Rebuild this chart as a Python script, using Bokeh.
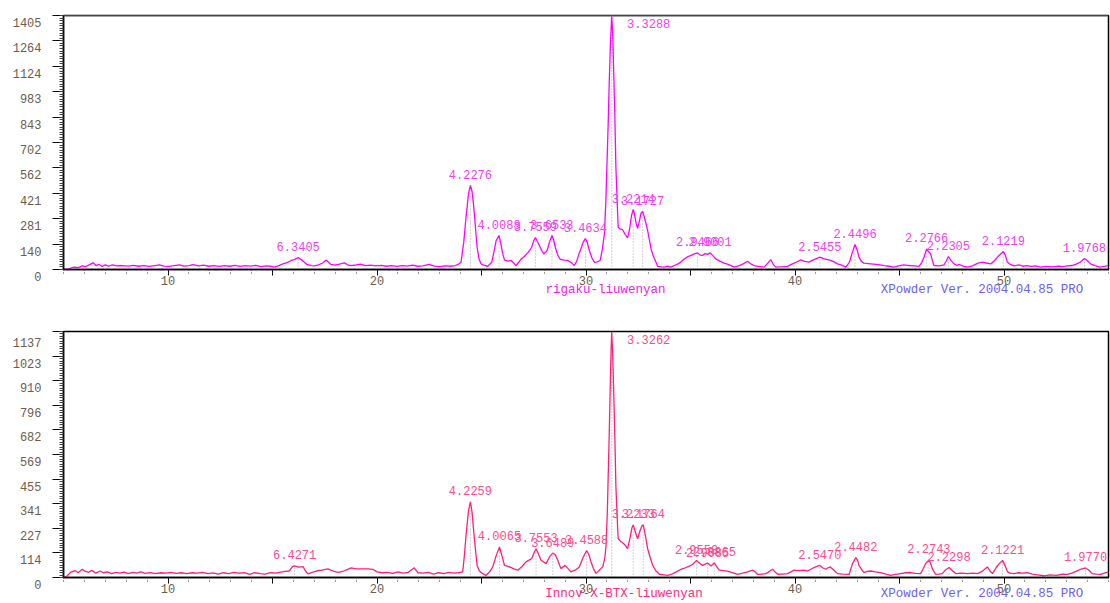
from bokeh.plotting import figure
from bokeh.layouts import column
from bokeh.models import (Range1d, FixedTicker, ColumnDataSource, LinearAxis,
                          Span, CustomJSTickFormatter)
from bokeh.core.properties import value
from bokeh.embed import file_html
from bokeh.resources import INLINE

# ---------------- data: top pattern (rigaku) ----------------
top_two_theta = [
    5.0, 5.25, 5.5, 5.7, 5.9, 6.05, 6.2, 6.42, 6.55, 6.7, 6.85, 7.0, 7.15, 7.35, 7.55, 7.8,
    8.1, 8.35, 8.6, 8.85, 9.1, 9.35, 9.6, 9.8, 10.05, 10.3, 10.55, 10.75, 11.0, 11.2, 11.45,
    11.7, 11.95, 12.2, 12.45, 12.7, 12.95, 13.2, 13.45, 13.7, 13.95, 14.2, 14.45, 14.7, 14.9,
    15.1, 15.3, 15.5, 15.7, 15.9, 16.05, 16.23, 16.4, 16.65, 16.85, 17.0, 17.2, 17.4, 17.57,
    17.8, 18.0, 18.2, 18.43, 18.6, 18.75, 19.0, 19.2, 19.45, 19.7, 19.95, 20.2, 20.45, 20.7,
    20.95, 21.2, 21.45, 21.7, 21.95, 22.2, 22.5, 22.75, 23.0, 23.25, 23.5, 23.75, 23.9,
    24.02, 24.15, 24.26, 24.38, 24.47, 24.55, 24.63, 24.72, 24.79, 24.88, 24.98, 25.1, 25.3,
    25.49, 25.6, 25.7, 25.84, 25.94, 26.02, 26.1, 26.25, 26.42, 26.55, 26.65, 26.78, 26.89,
    27.05, 27.21, 27.3, 27.4, 27.5, 27.58, 27.67, 27.77, 27.88, 27.98, 28.06, 28.14, 28.25,
    28.37, 28.45, 28.53, 28.65, 28.77, 28.95, 29.13, 29.3, 29.44, 29.55, 29.66, 29.76, 29.86,
    29.97, 30.06, 30.16, 30.28, 30.4, 30.55, 30.68, 30.78, 30.88, 30.95, 31.0, 31.06, 31.11,
    31.17, 31.23, 31.28, 31.32, 31.38, 31.43, 31.49, 31.54, 31.62, 31.75, 31.87, 31.99, 32.08,
    32.18, 32.26, 32.33, 32.4, 32.47, 32.55, 32.63, 32.71, 32.8, 32.88, 32.95, 33.03, 33.11,
    33.22, 33.35, 33.43, 33.6, 33.75, 33.9, 34.07, 34.22, 34.38, 34.54, 34.7, 34.86, 35.02,
    35.18, 35.34, 35.46, 35.58, 35.7, 35.82, 35.94, 36.06, 36.21, 36.4, 36.61, 36.8, 37.09,
    37.3, 37.5, 37.73, 37.9, 38.05, 38.25, 38.52, 38.7, 38.84, 38.95, 39.08, 39.35, 39.64,
    39.85, 40.05, 40.28, 40.45, 40.67, 40.9, 41.05, 41.19, 41.35, 41.5, 41.71, 41.87, 42.03,
    42.2, 42.43, 42.6, 42.75, 42.87, 42.97, 43.06, 43.18, 43.3, 43.5, 43.75, 44.0, 44.26,
    44.5, 44.74, 44.95, 45.21, 45.45, 45.7, 45.93, 46.05, 46.17, 46.3, 46.38, 46.49, 46.57,
    46.65, 46.9, 47.13, 47.25, 47.34, 47.45, 47.61, 47.75, 47.85, 48.05, 48.25, 48.5, 48.75,
    48.96, 49.15, 49.36, 49.55, 49.76, 49.97, 50.06, 50.16, 50.3, 50.48, 50.7, 50.9, 51.11,
    51.3, 51.5, 51.75, 52.0, 52.3, 52.6, 52.8, 53.03, 53.25, 53.45, 53.66, 53.85, 54.0,
    54.14, 54.35, 54.58, 54.8, 55.0]
top_counts = [
    0, 4, 13, 10, 20, 16, 24, 37, 22, 28, 17, 26, 19, 25, 20, 22,
    19, 23, 18, 22, 17, 21, 25, 19, 17, 22, 26, 19, 22, 27, 20,
    24, 18, 21, 17, 22, 18, 23, 17, 21, 19, 23, 16, 20, 18,
    13, 22, 31, 38, 50, 55, 66, 52, 28, 22, 20, 26, 36, 52,
    28, 24, 30, 37, 26, 22, 25, 30, 21, 24, 20, 23, 18, 22,
    17, 21, 19, 24, 18, 20, 28, 19, 16, 20, 18, 22, 30,
    40, 150, 289, 420, 465, 430, 345, 220, 123, 60, 31, 24, 18,
    40, 100, 160, 188, 133, 85, 53, 46, 50, 35, 22, 40, 58,
    72, 92, 105, 123, 160, 177, 155, 133, 105, 86, 95, 105, 150,
    188, 165, 123, 80, 56, 52, 50, 38, 22, 45, 85, 115, 150,
    171, 150, 105, 65, 40, 42, 50, 110, 197, 380, 566, 800, 1027,
    1250, 1405, 1300, 1119, 850, 566, 380, 234, 225, 220, 195, 175, 220,
    300, 332, 300, 255, 227, 265, 310, 321, 285, 250, 215, 165, 115,
    75, 40, 17, 15, 13, 18, 13, 22, 30, 41, 58, 70, 78,
    86, 92, 80, 78, 88, 84, 92, 78, 59, 46, 35, 28, 13,
    20, 30, 46, 30, 22, 17, 13, 35, 55, 30, 13, 15, 17,
    30, 40, 53, 45, 41, 55, 62, 68, 60, 56, 50, 42, 31,
    26, 13, 40, 96, 138, 110, 68, 45, 35, 33, 30, 27, 22,
    18, 13, 20, 26, 22, 20, 17, 35, 68, 114, 100, 87, 50,
    22, 20, 26, 50, 72, 52, 31, 22, 28, 18, 13, 20, 35,
    41, 36, 31, 50, 78, 99, 80, 41, 28, 20, 25, 18, 22,
    17, 20, 13, 17, 15, 19, 16, 20, 22, 30, 41, 61, 48,
    31, 22, 13, 17, 22]
top_peak_two_theta = [16.23, 24.47, 25.84, 27.58, 28.37, 29.97, 31.23, 32.26, 32.71,
                      35.34, 35.94, 41.19, 42.87, 46.30, 47.34, 49.97, 53.85]
top_peak_counts = [66, 465, 188, 177, 188, 171, 1405, 332, 321, 92, 92, 68, 138, 114, 72, 99, 61]
top_peak_labels = ["6.3405", "4.2276", "4.0088", "3.7559", "3.6533", "3.4634", "3.3288",
                   "3.2214", "3.1727", "2.9466", "2.9001", "2.5455", "2.4496", "2.2766",
                   "2.2305", "2.1219", "1.9768"]
top_ytick_labels = ["0", "140", "281", "421", "562", "702", "843", "983", "1124", "1264", "1405"]
top_ymax = 1405
top_caption = "rigaku-liuwenyan"

# ---------------- data: bottom pattern (Innov-X BTX) ----------------
bot_two_theta = [
    5.0, 5.15, 5.35, 5.55, 5.7, 5.9, 6.05, 6.2, 6.35, 6.55, 6.75, 6.9, 7.1, 7.3, 7.5, 7.7,
    7.9, 8.1, 8.3, 8.5, 8.7, 8.9, 9.15, 9.4, 9.65, 9.9, 10.15, 10.4, 10.65, 10.9, 11.15,
    11.4, 11.65, 11.9, 12.15, 12.4, 12.65, 12.9, 13.15, 13.4, 13.65, 13.9, 14.15, 14.4,
    14.65, 14.9, 15.15, 15.4, 15.6, 15.8, 15.95, 16.06, 16.25, 16.46, 16.58, 16.7, 16.9,
    17.1, 17.35, 17.65, 17.9, 18.15, 18.4, 18.6, 18.77, 19.0, 19.3, 19.6, 19.8, 20.0,
    20.25, 20.5, 20.75, 21.0, 21.25, 21.5, 21.78, 21.95, 22.2, 22.45, 22.7, 22.95, 23.2,
    23.45, 23.7, 23.9,
    24.1, 24.18, 24.26, 24.38, 24.47, 24.55, 24.63, 24.72, 24.79, 24.9, 25.05, 25.22,
    25.38, 25.54, 25.7, 25.86, 25.98, 26.1, 26.34, 26.55, 26.74, 26.95, 27.13, 27.4,
    27.52, 27.61, 27.72, 27.85, 28.09, 28.25, 28.41, 28.53, 28.65, 28.8, 29.0, 29.15,
    29.28, 29.5, 29.68, 29.85, 30.03, 30.14, 30.24, 30.36, 30.48, 30.65, 30.8, 30.9,
    30.96, 31.02, 31.07, 31.12, 31.16, 31.2, 31.23, 31.27, 31.32, 31.38, 31.43, 31.49,
    31.54, 31.65, 31.75, 31.87, 31.99, 32.1, 32.2, 32.26, 32.36, 32.47, 32.58, 32.68,
    32.74, 32.85, 32.95, 33.08, 33.19, 33.35, 33.51, 33.75, 33.91, 34.07, 34.3, 34.54,
    34.75, 34.94, 35.1, 35.29, 35.45, 35.58, 35.7, 35.82, 35.9, 35.98, 36.06, 36.14,
    36.25, 36.37, 36.57, 36.77, 37.0, 37.25, 37.5, 37.73, 37.97, 38.1, 38.21, 38.4,
    38.61, 38.8, 38.93, 39.05, 39.17, 39.4, 39.64, 39.8, 39.96, 40.2, 40.44, 40.6,
    40.76, 40.95, 41.19, 41.32, 41.47, 41.58, 41.68, 41.85, 42.03, 42.3, 42.59, 42.75,
    42.91, 43.0, 43.06, 43.18, 43.3, 43.45, 43.62, 43.85, 44.1, 44.35, 44.58, 44.8,
    45.05, 45.3, 45.53, 45.75, 46.01, 46.12, 46.25, 46.41, 46.49, 46.57, 46.73, 46.9,
    47.05, 47.2, 47.37, 47.52, 47.69, 47.95, 48.25, 48.5, 48.73, 48.95, 49.1, 49.21,
    49.33, 49.45, 49.62, 49.77, 49.93, 50.05, 50.17, 50.3, 50.48, 50.7, 50.9, 51.11,
    51.35, 51.6, 51.91, 52.2, 52.5, 52.8, 53.03, 53.25, 53.45, 53.66, 53.9, 54.05,
    54.22, 54.4, 54.62, 54.8, 55.0]
bot_counts = [
    0, 5, 25, 32, 22, 38, 28, 24, 33, 20, 30, 22, 26, 18, 24, 20,
    25, 18, 24, 20, 26, 19, 23, 18, 22, 20, 24, 19, 22, 18, 22,
    20, 24, 18, 21, 16, 22, 18, 24, 20, 22, 14, 22, 18,
    16, 22, 20, 25, 28, 30, 50, 54, 48, 50, 30, 17, 24,
    30, 34, 40, 30, 24, 30, 38, 44, 40, 40, 40, 38, 26,
    22, 24, 19, 26, 20, 24, 45, 22, 20, 24, 16, 22, 18,
    24, 20, 22,
    26, 100, 194, 310, 350, 300, 209, 120, 56, 30, 18, 10,
    25, 49, 100, 141, 100, 56, 49, 40, 34, 52, 72, 87,
    115, 133, 110, 80, 64, 95, 113, 105, 80, 41, 56, 40,
    26, 35, 49, 90, 125, 105, 72, 40, 19, 35, 49, 90,
    148, 300, 500, 700, 882, 1050, 1137, 1050, 882, 650, 423, 280,
    179, 168, 161, 150, 133, 180, 230, 243, 210, 179, 215, 240,
    243, 190, 133, 90, 56, 30, 15, 12, 10, 14, 25, 38,
    45, 53, 60, 79, 65, 56, 62, 67, 60, 53, 60, 68,
    50, 34, 32, 29, 22, 14, 20, 26, 34, 25, 14, 16,
    18, 30, 38, 25, 15, 16, 18, 26, 34, 32, 34, 30,
    38, 48, 56, 45, 38, 45, 49, 35, 18, 16, 14, 64,
    92, 78, 56, 38, 23, 28, 30, 26, 23, 16, 10, 14,
    18, 22, 23, 19, 18, 38, 64, 81, 65, 41, 14, 16,
    18, 35, 46, 32, 18, 20, 18, 20, 18, 28, 40, 49,
    30, 18, 45, 64, 79, 55, 26, 20, 18, 22, 20, 23,
    16, 12, 8, 12, 10, 15, 14, 20, 28, 38, 44, 35,
    18, 16, 14, 20, 26]
bot_peak_two_theta = [16.06, 24.47, 25.86, 27.61, 28.41, 30.03, 31.23, 32.26, 32.74,
                      35.29, 35.82, 36.14, 41.19, 42.91, 46.41, 47.37, 49.93, 53.90]
bot_peak_counts = [54, 350, 141, 133, 113, 125, 1137, 243, 243, 79, 67, 68, 56, 92, 81, 46, 79, 44]
bot_peak_labels = ["6.4271", "4.2259", "4.0065", "3.7553", "3.6489", "3.4588", "3.3262",
                   "3.2233", "3.1764", "2.9550", "2.9085", "2.8865", "2.5470", "2.4482",
                   "2.2743", "2.2298", "2.1221", "1.9770"]
bot_ytick_labels = ["0", "114", "227", "341", "455", "569", "682", "796", "910", "1023", "1137"]
bot_ymax = 1137
bot_caption = "Innov-X-BTX-liuwenyan"

software_text = "XPowder Ver. 2004.04.85 PRO"

# ---------------- styling ----------------
FONT = "Liberation Mono"
TICK_COLOR = "#6e5c4c"
SOFT_COLOR = "#6a62f0"


def caption_axis(center_x, text, color, standoff):
    ax = LinearAxis(ticker=FixedTicker(ticks=[center_x], minor_ticks=[]),
                    formatter=CustomJSTickFormatter(args=dict(t=text), code="return t;"))
    ax.axis_line_color = None
    ax.major_tick_line_color = None
    ax.minor_tick_line_color = None
    ax.major_tick_in = 0
    ax.major_tick_out = 0
    ax.minor_tick_in = 0
    ax.minor_tick_out = 0
    ax.major_label_standoff = standoff
    ax.major_label_text_font = FONT
    ax.major_label_text_font_size = "12.5px"
    ax.major_label_text_color = color
    return ax


def make_panel(tt, cnt, ymax, ylabels, px, py, ptxt, caption, caption_x, curve_color,
               label_color, caption_color, height, b_top, b_bottom, top_line,
               cap_standoffs):
    p = figure(width=1110, height=height, x_range=Range1d(5, 55), y_range=Range1d(0, ymax),
               output_backend="svg", toolbar_location=None,
               min_border_left=63, min_border_right=2, min_border_top=b_top,
               min_border_bottom=b_bottom)
    p.grid.visible = False
    p.outline_line_color = "black"
    p.outline_line_width = 1.5
    p.background_fill_color = "white"
    p.border_fill_color = "white"

    # x axis
    xa = p.xaxis[0]
    xa.ticker = FixedTicker(ticks=[10, 15, 20, 25, 30, 35, 40, 45, 50],
                            minor_ticks=list(range(5, 56)))
    xa.formatter = CustomJSTickFormatter(
        code="return (Math.round(tick) % 10 == 0) ? String(Math.round(tick)) : '';")
    xa.axis_line_color = "black"
    xa.axis_line_width = 1.5
    xa.major_tick_in = 0
    xa.major_tick_out = 6
    xa.major_tick_line_color = "black"
    xa.minor_tick_in = 0
    xa.minor_tick_out = 4
    xa.minor_tick_line_color = "#333333"
    xa.minor_tick_line_dash = "1 2"
    xa.major_label_standoff = 0
    xa.major_label_text_font = FONT
    xa.major_label_text_font_size = "12px"
    xa.major_label_text_color = TICK_COLOR

    # y axis (labels sit a little below their ticks, as in the reference)
    ya = p.yaxis[0]
    step = ymax / 10
    yt = [step * k for k in range(11)]
    ya.ticker = FixedTicker(ticks=yt, minor_ticks=[ymax * k / 100 for k in range(101)])
    ya.formatter = CustomJSTickFormatter(args=dict(labels=ylabels, step=step),
                                         code="return '\\n' + labels[Math.round(tick / step)];")
    ya.axis_line_color = "black"
    ya.axis_line_width = 1.5
    ya.major_tick_in = 0
    ya.major_tick_out = 11
    ya.major_tick_line_color = "black"
    ya.minor_tick_in = 0
    ya.minor_tick_out = 4
    ya.minor_tick_line_color = "#444444"
    ya.major_label_standoff = 11
    ya.major_label_text_font = FONT
    ya.major_label_text_font_size = "12px"
    ya.major_label_text_color = TICK_COLOR

    if top_line:
        p.add_layout(Span(location=ymax, dimension="width", line_color="#8a8a8a", line_width=2))

    # dotted peak markers
    p.segment(x0=px, y0=[0] * len(px), x1=px, y1=py, line_color="#a8a8a8",
              line_dash="1 2", line_width=1)
    # pattern
    p.line(tt, cnt, line_color=curve_color, line_width=1.3)

    # peak labels
    imax = py.index(max(py))
    xo = [37 if i == imax else 0 for i in range(len(px))]
    yo = [8 if i == imax else -11 for i in range(len(px))]
    lsrc = ColumnDataSource(dict(x=px, y=py, text=ptxt, xo=xo, yo=yo))
    p.text(x="x", y="y", text="text", x_offset="xo", y_offset="yo", source=lsrc,
           text_font=value(FONT), text_font_size="12px", text_color=label_color,
           text_align="center", text_baseline="middle")

    p.add_layout(caption_axis(caption_x, caption, caption_color, cap_standoffs[0]), "below")
    p.add_layout(caption_axis(48.95, software_text, SOFT_COLOR, cap_standoffs[1]), "below")
    return p


p_top = make_panel(top_two_theta, top_counts, top_ymax, top_ytick_labels,
                   top_peak_two_theta, top_peak_counts, top_peak_labels, top_caption, 30.93,
                   "#ff00ff", "#f040f0", "#f020f0", 320, 15, 51, True, (-5, -17))
p_bot = make_panel(bot_two_theta, bot_counts, bot_ymax, bot_ytick_labels,
                   bot_peak_two_theta, bot_peak_counts, bot_peak_labels, bot_caption, 31.82,
                   "#ff1f7a", "#ff4a8c", "#ff2a80", 283, 11, 24, False, (-9, -17))

layout = column(p_top, p_bot, spacing=0)
open("out.html", "w").write(file_html(layout, INLINE))
